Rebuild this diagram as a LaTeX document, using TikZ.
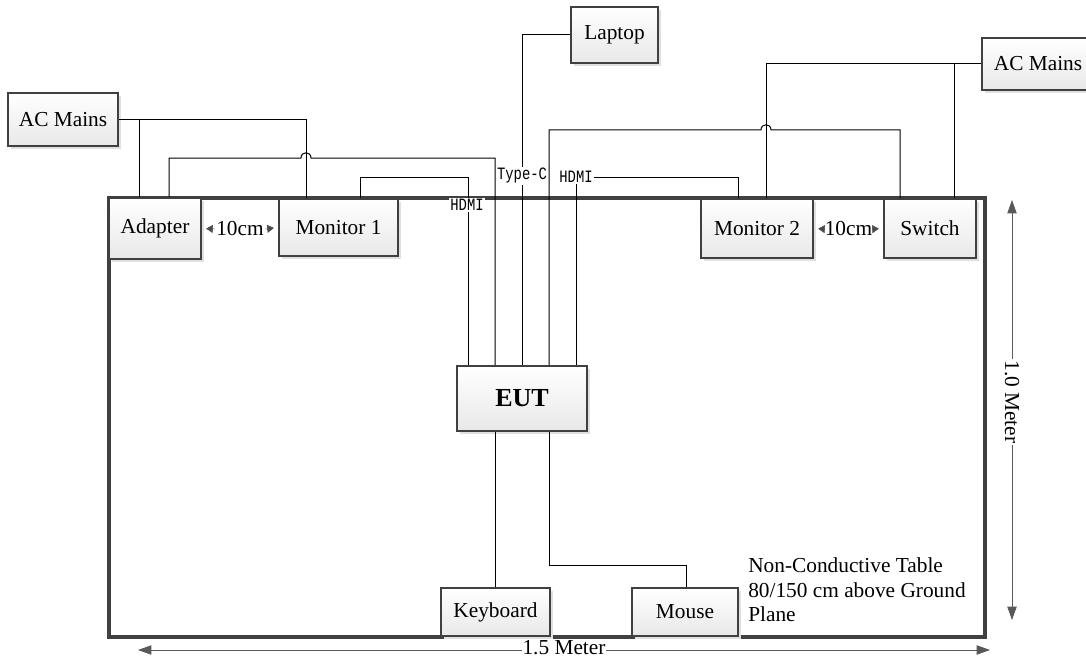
\documentclass[tikz,border=0pt]{standalone}
\usepackage{fontspec}
\setmainfont{Liberation Serif}
\newfontfamily\monofont[FakeStretch=0.8]{Liberation Mono}
\usetikzlibrary{shadows,arrows.meta}
\begin{document}
\begin{tikzpicture}[x=0.75pt,y=-0.75pt,
  box/.style={draw=black!75, line width=1.7pt, top color=white, bottom color=black!9,
    inner sep=0pt, font=\fontsize{16}{18}\selectfont,
    drop shadow={shadow xshift=2.2pt, shadow yshift=-2.2pt, fill=black!12, opacity=1}},
  wire/.style={line width=0.75pt, black},
  tag/.style={fill=white, inner sep=0.8pt, font=\monofont\fontsize{13}{14}\selectfont},
  dimline/.style={line width=0.6pt, black!65, {Triangle[length=10pt,width=7pt]}-{Triangle[length=10pt,width=7pt]}},
  gaptip/.style={line width=0.4pt, black!70, -{Triangle[length=5pt,width=6pt]}, shorten >=3pt},
  txt/.style={font=\fontsize{16}{18.4}\selectfont, inner sep=1pt}]
\useasboundingbox (0,0) rectangle (1086,660);
% table
\draw[line width=2.6pt, black!75] (109,198) rectangle (985,637);
% boxes
\node[box, minimum width=82.5pt, minimum height=39.75pt] (acL) at (63,119.5) {AC Mains};
\node[box, minimum width=69pt, minimum height=45.75pt] (adapter) at (155,228.5) {Adapter};
\node[box, minimum width=89.25pt, minimum height=42.75pt] (monitor1) at (338.5,227.5) {Monitor 1};
\node[box, minimum width=65.25pt, minimum height=42pt] (laptop) at (614.5,35) {Laptop};
\node[box, minimum width=84pt, minimum height=39pt] (acR) at (1038,64) {AC Mains};
\node[box, minimum width=84pt, minimum height=44.25pt] (monitor2) at (757,228.5) {Monitor 2};
\node[box, minimum width=69pt, minimum height=44.25pt] (switch) at (930,228.5) {Switch};
\node[box, minimum width=97.5pt, minimum height=48.75pt, font=\bfseries\fontsize{19.5}{22}\selectfont] (eut) at (522,398.5) {EUT};
\node[box, minimum width=81.75pt, minimum height=36pt] (keyboard) at (495.5,612) {Keyboard};
\node[box, minimum width=79.5pt, minimum height=36pt] (mouse) at (685,612) {Mouse};
% wires
\begin{scope}[wire]
\draw (acL.east) -| (306,0 |- monitor1.north);
\draw (139,0 |- acL.east) -- (139,0 |- adapter.north);
\draw (169,0 |- adapter.north) |- (301,158) .. controls (301,151) and (311,151) .. (311,158) -- (495,158) -- (495,0 |- eut.north);
\draw (360,0 |- monitor1.north) |- (468,177) -- (468,0 |- eut.north);
\draw (laptop.west) -| (522,0 |- eut.north);
\draw (738,0 |- monitor2.north) |- (576,177) -- (576,0 |- eut.north);
\draw (549,0 |- eut.north) |- (761,130) .. controls (761,123) and (771,123) .. (771,130) -- (900,130) -- (900,0 |- switch.north);
\draw (acR.west) -| (766,0 |- monitor2.north);
\draw (954,0 |- acR.west) -- (954,0 |- switch.north);
\draw (495,0 |- eut.south) -- (495,0 |- keyboard.north);
\draw (549,0 |- eut.south) |- (686,565) -- (686,0 |- mouse.north);
\end{scope}
% cable tags
\node[tag] (hdmiL) at (467,205) {HDMI};
\node[tag] (typec) at (522,176) {Type-C};
\node[tag] (hdmiR) at (576,177) {HDMI};
% 10cm gaps
\node[txt] (gap1) at (240,229) {10cm};
\draw[gaptip] (gap1.west) -- (adapter.east);
\draw[gaptip] (gap1.east) -- (monitor1.west);
\node[txt] (gap2) at (848.5,229) {10cm};
\draw[gaptip] (gap2.west) -- (monitor2.east);
\draw[gaptip] (gap2.east) -- (switch.west);
% note
\node[txt, align=left, anchor=west, inner sep=0pt] (note) at (748,590) {Non-Conductive Table\\80/150 cm above Ground\\Plane};
% dimensions
\coordinate (hl) at (138,650); \coordinate (hr) at (990,650);
\draw[dimline] (hl) -- (hr);
\node[txt, fill=white, inner sep=0.5pt] (hlab) at (564,648) {1.5 Meter};
\coordinate (vt) at (1012,200); \coordinate (vb) at (1012,620);
\draw[dimline] (vt) -- (vb);
\node[txt, fill=white, inner sep=1pt, rotate=-90] (vlab) at (1012,402) {1.0 Meter};
\end{tikzpicture}
\end{document}
